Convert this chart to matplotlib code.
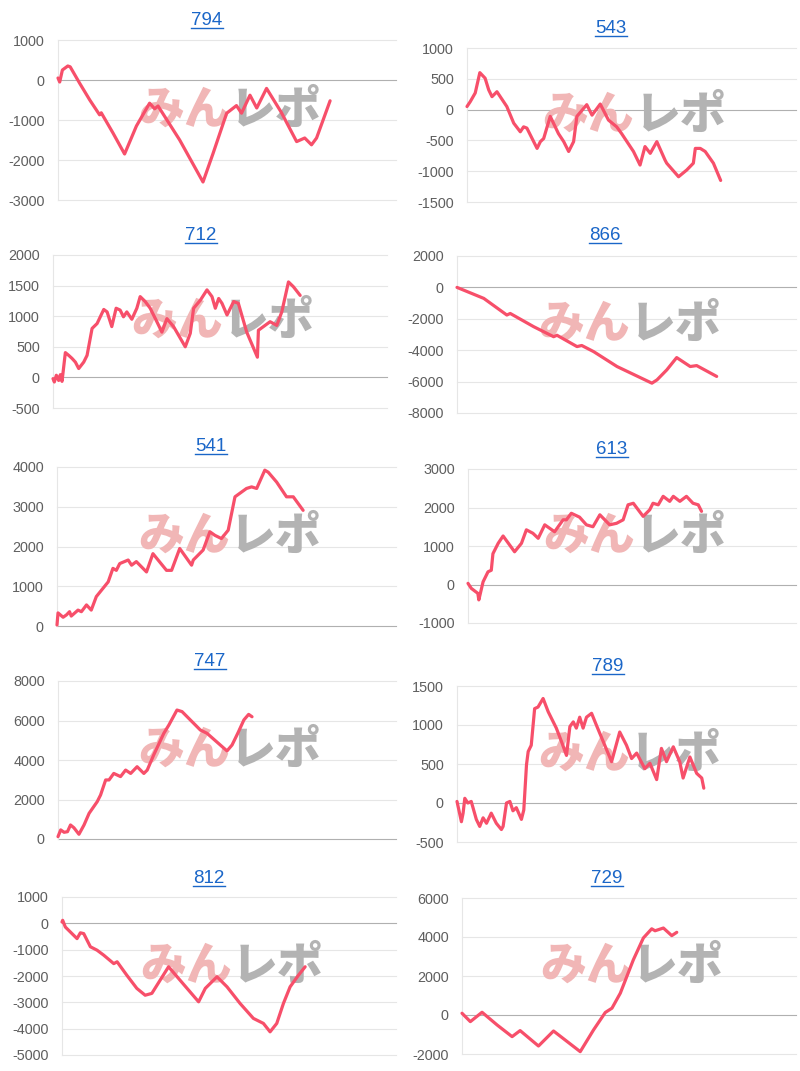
import matplotlib
matplotlib.use('Agg')
import matplotlib.pyplot as plt
from matplotlib.lines import Line2D

plt.rcParams['font.family'] = ['Liberation Sans', 'DejaVu Sans']

# ---------------- data ----------------
titles = ['794', '543', '712', '866', '541', '613', '747', '789', '812', '729']

x_794 = [0, 0.5, 1.3, 2.9, 3.6, 6.4, 9.4, 12.3, 12.8, 16.3, 19.7, 23.2, 27.1, 28.6, 29.6, 36, 42.9, 45.9, 49.9, 52.8, 54.3, 56.8, 58.8, 61.7, 66, 70.6, 73, 75, 76.5, 80.5]
y_794 = [50, -50, 250, 350, 330, -80, -500, -870, -820, -1330, -1850, -1150, -580, -720, -650, -1500, -2550, -1830, -830, -640, -830, -380, -700, -210, -800, -1540, -1450, -1620, -1450, -520]
ticks_794 = [1000, 0, -1000, -2000, -3000]

x_543 = [0, 1, 2.5, 3.9, 5.5, 6.6, 7.6, 9.1, 10.1, 12.1, 14.2, 16.2, 17.2, 18.2, 21.3, 22.3, 23.3, 25.3, 27.8, 29.4, 30.9, 32.4, 33.4, 36.4, 38, 40.5, 43, 45.5, 47, 50.6, 52.6, 54.1, 55.7, 57.7, 60.2, 60.7, 64.3, 66.8, 68.8, 69.4, 70.9, 72.4, 74.9, 77.1]
y_543 = [50, 130, 270, 600, 510, 320, 210, 290, 210, 50, -220, -360, -280, -300, -630, -520, -470, -110, -390, -520, -680, -520, -110, 80, -90, 90, -170, -280, -390, -680, -900, -600, -710, -520, -820, -870, -1090, -980, -870, -630, -630, -680, -870, -1150]
ticks_543 = [1000, 500, 0, -500, -1000, -1500]

x_712 = [0, 0.4, 1, 1.7, 2.2, 2.7, 3.7, 4.7, 5.7, 6.7, 7.7, 9.2, 10.2, 11.7, 13.2, 15.2, 16.2, 17.6, 18.9, 20.1, 21.1, 22.1, 23.6, 25.1, 26.1, 27.6, 29.1, 31.1, 32.6, 34.1, 36.1, 39.6, 41.1, 42.1, 44.1, 46.1, 47.6, 48.6, 49.6, 50.6, 52.1, 54.1, 55.5, 58, 61.2, 61.5, 65, 67, 68.5, 70.5, 72, 74]
y_712 = [-20, -75, 35, -50, 45, -65, 405, 360, 310, 250, 145, 250, 360, 800, 880, 1110, 1070, 830, 1130, 1100, 990, 1070, 950, 1130, 1320, 1240, 1130, 910, 740, 960, 830, 500, 720, 1130, 1260, 1430, 1320, 1130, 1290, 1210, 1020, 1240, 1210, 740, 330, 770, 910, 850, 1070, 1560, 1480, 1340]
ticks_712 = [2000, 1500, 1000, 500, 0, -500]

x_866 = [0, 7.9, 14.7, 15.7, 22.6, 28.5, 29.5, 35.4, 36.8, 40.3, 47.2, 57.5, 59, 61.9, 64.8, 68.8, 70.7, 76.6]
y_866 = [0, -700, -1760, -1660, -2500, -3140, -3050, -3770, -3700, -4090, -5040, -6100, -5890, -5250, -4470, -5040, -4980, -5670]
ticks_866 = [2000, 0, -2000, -4000, -6000, -8000]

x_541 = [0, 0.3, 1.8, 2.8, 3.7, 4.2, 6.2, 7.2, 8.7, 10.1, 11.6, 15.1, 16.5, 17.5, 18.5, 21, 22, 23.4, 26.4, 28.3, 32.3, 33.8, 36.2, 39.7, 40.2, 43.1, 45.1, 46.6, 48.5, 50.5, 52.5, 55.9, 57.4, 58.9, 61.3, 62.3, 64.8, 67.7, 69.7, 72.6]
y_541 = [25, 330, 220, 280, 360, 250, 400, 360, 530, 400, 740, 1110, 1450, 1400, 1570, 1660, 1530, 1620, 1360, 1820, 1400, 1400, 1950, 1530, 1660, 1910, 2370, 2280, 2200, 2410, 3250, 3460, 3500, 3460, 3920, 3870, 3620, 3250, 3250, 2910]
ticks_541 = [4000, 3000, 2000, 1000, 0]

x_613 = [0, 1, 3, 3.3, 4.6, 6.1, 7.1, 7.6, 9.2, 10.7, 14.2, 16.3, 17.8, 19.8, 21.4, 23.4, 26.4, 29, 30, 31.5, 34, 36.1, 38.1, 40.2, 43.2, 45.3, 47.3, 48.8, 50.4, 53.4, 55.4, 56.4, 58, 59.5, 61.5, 62.6, 64.6, 66.6, 67.6, 68.6, 70.2, 71.2]
y_613 = [30, -100, -230, -400, 70, 330, 370, 800, 1070, 1260, 850, 1070, 1420, 1330, 1200, 1550, 1370, 1680, 1680, 1850, 1750, 1550, 1500, 1810, 1550, 1590, 1680, 2070, 2110, 1770, 1940, 2110, 2070, 2290, 2160, 2290, 2160, 2290, 2200, 2110, 2070, 1900]
ticks_613 = [3000, 2000, 1000, 0, -1000]

x_747 = [0, 0.8, 1.8, 2.8, 3.7, 4.7, 6.2, 7.7, 9.2, 11.6, 12.6, 14.1, 15.1, 16.5, 18.5, 20, 21.5, 23.4, 25.4, 26.4, 28.3, 31.3, 32.8, 35.2, 36.7, 42.1, 44.1, 50, 51.5, 53.4, 55, 56.4, 57.4]
y_747 = [120, 460, 340, 370, 710, 570, 240, 710, 1300, 1890, 2230, 2990, 2990, 3320, 3160, 3490, 3320, 3660, 3320, 3490, 4250, 5350, 5770, 6530, 6450, 5520, 5350, 4460, 4760, 5430, 6030, 6310, 6190]
ticks_747 = [8000, 6000, 4000, 2000, 0]

x_789 = [0, 1.3, 1.8, 2.3, 3.2, 4.2, 5.7, 6.7, 7.7, 8.7, 10.1, 11.6, 13.1, 13.6, 14.6, 15.6, 16.5, 17.5, 19, 19.7, 20.5, 21, 21.9, 22.9, 23.9, 25.4, 26.9, 29.3, 30.8, 32.3, 33.3, 34.3, 35.2, 36.2, 37.2, 38.2, 39.7, 41.1, 45.6, 48, 50, 51.5, 53, 55.4, 56.9, 58.9, 60.3, 61.8, 63.8, 65.7, 66.7, 68.7, 70.7, 72.2, 72.8]
y_789 = [20, -240, -130, 60, 0, 20, -210, -300, -190, -260, -130, -260, -340, -300, 0, 20, -100, -60, -210, -90, 490, 660, 740, 1210, 1230, 1340, 1170, 960, 790, 610, 980, 1040, 960, 1100, 960, 1100, 1150, 1000, 530, 910, 740, 570, 640, 440, 510, 300, 700, 530, 720, 530, 320, 590, 380, 320, 190]
ticks_789 = [1500, 1000, 500, 0, -500]

x_812 = [0, 0.2, 1, 4.5, 5.5, 6.5, 8.5, 10.5, 12.5, 15.5, 16.5, 19.4, 22.4, 24.9, 26.9, 31.9, 40.9, 42.9, 46.4, 49.4, 53.3, 57.3, 60.3, 62.3, 64.3, 66.3, 68.3, 70.8, 72.8]
y_812 = [50, 115, -140, -580, -360, -390, -890, -1020, -1210, -1530, -1460, -1970, -2470, -2730, -2660, -1650, -2980, -2470, -2030, -2410, -3040, -3610, -3800, -4120, -3800, -3040, -2410, -1970, -1650]
ticks_812 = [1000, 0, -1000, -2000, -3000, -4000, -5000]

x_729 = [0, 2.5, 6, 10.5, 15, 17.4, 22.9, 27.4, 35.4, 39.4, 42.9, 44.9, 47.4, 51.3, 54.3, 56.8, 57.8, 60.3, 62.8, 64.3]
y_729 = [90, -340, 140, -510, -1110, -800, -1590, -820, -1880, -760, 130, 350, 1120, 2830, 3950, 4420, 4320, 4460, 4070, 4240]
ticks_729 = [6000, 4000, 2000, 0, -2000]

xs = [x_794, x_543, x_712, x_866, x_541, x_613, x_747, x_789, x_812, x_729]
ys = [y_794, y_543, y_712, y_866, y_541, y_613, y_747, y_789, y_812, y_729]
ticks = [ticks_794, ticks_543, ticks_712, ticks_866, ticks_541, ticks_613, ticks_747, ticks_789, ticks_812, ticks_729]

# ---------------- layout (pixels) ----------------
W, H = 800, 1071
# left, right, top, bottom of plot area
boxes = [(58, 396, 40, 200), (467, 796, 48, 202),
         (53, 387, 255, 408), (457, 796, 256, 413),
         (57, 396, 467, 626), (468, 796, 469, 623),
         (58, 396, 681, 839), (457, 796, 686, 842),
         (62, 396, 897, 1055), (462, 796, 898, 1054)]
# title centre x, baseline y
title_pos = [(207, 25), (611, 33), (201, 240), (605, 240), (211, 451),
             (612, 454), (210, 666), (608, 671), (209, 883), (607, 883)]

LINE = '#f74f6a'
GRID = '#e6e6e6'
ZERO = '#b0b0b0'
TXT = '#5f5f5f'
BLUE = '#1a66c8'

fig = plt.figure(figsize=(W / 100, H / 100), dpi=100)

title_texts = []
for i in range(10):
    L, R, T, B = boxes[i]
    ax = fig.add_axes([L / W, 1 - B / H, (R - L) / W, (B - T) / H])
    tk = ticks[i]
    ax.set_xlim(0, 100)
    ax.set_ylim(min(tk), max(tk))
    ax.set_yticks(tk)
    ax.set_yticklabels([str(t) for t in tk])
    ax.set_xticks([])
    ax.tick_params(axis='y', length=0, pad=9.5, labelsize=10.4, labelcolor=TXT)
    for s in ['top', 'right', 'bottom']:
        ax.spines[s].set_visible(False)
    ax.spines['left'].set_color(GRID)
    ax.spines['left'].set_linewidth(0.8)
    for t in tk:
        ax.axhline(t, color=ZERO if t == 0 else GRID, lw=0.8, zorder=1, clip_on=False)
    ax.plot(xs[i], ys[i], color=LINE, lw=2.3, zorder=3, solid_joinstyle='round',
            solid_capstyle='round', clip_on=False)
    # watermark
    cx = (L + R) / 2 + 2
    cy = (T + B) / 2 - 10
    ax.text((cx + 1) / W, 1 - cy / H, 'みん', transform=fig.transFigure, ha='right', va='center',
            family=['Noto Sans CJK JP', 'DejaVu Sans'], fontweight='black', fontsize=33,
            color='#f1b6b6', zorder=2)
    ax.text((cx + 1) / W, 1 - cy / H, 'レポ', transform=fig.transFigure, ha='left', va='center',
            family=['Noto Sans CJK JP', 'DejaVu Sans'], fontweight='black', fontsize=33,
            color='#b3b3b3', zorder=2)
    tx, ty = title_pos[i]
    tt = fig.text(tx / W, 1 - ty / H, titles[i], ha='center', va='baseline',
                  fontsize=13.5, color=BLUE)
    title_texts.append((tt, ty))

fig.canvas.draw()
r = fig.canvas.get_renderer()
for tt, ty in title_texts:
    bb = tt.get_window_extent(r)
    yl = 1 - (ty + 2.5) / H
    fig.add_artist(Line2D([bb.x0 / W, bb.x1 / W], [yl, yl], color=BLUE, lw=1.0,
                          transform=fig.transFigure))

fig.savefig('out.png', dpi=100)
